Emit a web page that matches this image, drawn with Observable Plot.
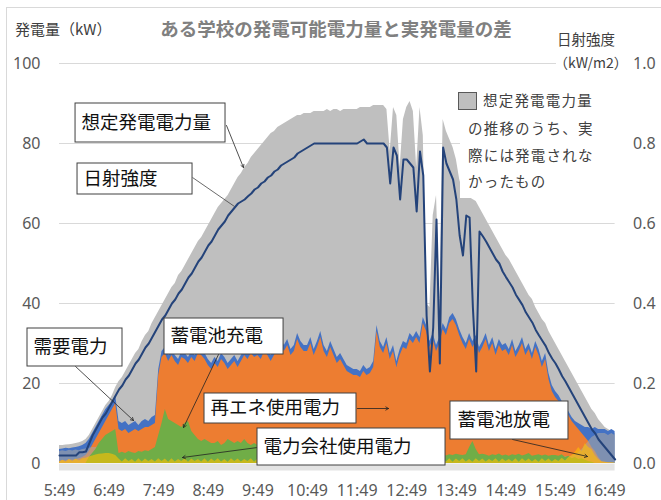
<!DOCTYPE html>
<html><head><meta charset="utf-8">
<script src="https://cdn.jsdelivr.net/npm/d3@7"></script>
<script src="https://cdn.jsdelivr.net/npm/@observablehq/plot@0.6"></script>
<style>
body{margin:0;background:#fff;}
#chart{width:661px;height:500px;}
</style></head><body><div id="chart"></div>
<script>
// minutes after 5:49, one sample every 4 minutes
const stepMinutes = 4;
const hourLabels = ["5:49","6:49","7:49","8:49","9:49","10:49","11:49","12:49","13:49","14:49","15:49","16:49"];
const leftTicks = [0,20,40,60,80,100];

// 日射強度 (kW/m2)
const irradiance = [
0.02,0.02,0.02,0.02,0.02,0.02,0.028,0.028,0.03,0.05,0.07,0.085,0.10,0.115,0.125,
0.14,0.155,0.17,0.185,0.195,0.21,0.22,0.235,0.25,0.26,0.275,0.29,0.30,0.315,0.33,
0.345,0.36,0.37,0.385,0.40,0.41,0.425,0.435,0.45,0.465,0.475,0.49,0.505,0.515,0.53,
0.545,0.555,0.57,0.585,0.595,0.605,0.62,0.63,0.64,0.65,0.655,0.66,0.668,0.675,0.685,
0.69,0.70,0.705,0.715,0.72,0.73,0.735,0.745,0.75,0.755,0.76,0.765,0.775,0.78,0.785,
0.79,0.795,0.80,0.80,0.80,0.80,0.80,0.80,0.80,0.80,0.80,0.80,0.80,0.80,0.80,
0.80,0.805,0.81,0.80,0.80,0.80,0.80,0.80,0.80,0.79,0.70,0.79,0.77,0.66,0.76,
0.76,0.75,0.74,0.63,0.78,0.72,0.37,0.23,0.34,0.61,0.25,0.79,0.75,0.73,0.71,
0.66,0.57,0.52,0.62,0.615,0.39,0.23,0.58,0.568,0.555,0.54,0.525,0.51,0.50,0.48,
0.466,0.453,0.44,0.422,0.409,0.396,0.378,0.365,0.352,0.334,0.32,0.307,0.294,0.276,0.262,
0.25,0.235,0.218,0.205,0.19,0.175,0.16,0.145,0.13,0.115,0.10,0.085,0.075,0.06,0.05,
0.04,0.03,0.02,0.01];

// 想定発電電力量 (kW)
const expected = [
4.5,4.5,4.6,4.7,4.8,5,5.2,5.5,6,7,8.5,10,11.5,13,14.5,
15.5,17,19,20.5,21.5,23,24.5,26,27.5,28.5,30.5,32,33,35,36.5,
38,39.5,41,42.5,44,45,47,48,49.5,51,52.5,54,55.5,56.5,58,
59.5,61,62.5,64,65,66,67,68.5,70,71.5,72.5,74,75,76.5,77.5,
78.5,79.5,80.5,81.5,82.5,83,84,84.5,85,85.5,86,86.5,87,87,87.5,
87.5,87.5,88,88,88,88,88.5,88,88.5,88.5,88,88.5,88.5,88.5,88.5,
88.5,89,89,89,89,89.5,89.5,89.5,89.5,88.5,78,89,87,74,86,
89,90.5,88,74,89,82,40,39,62,67,41,86,83,81,79,
76,71,68,67,66.5,66,65.5,64,62.5,61,59.5,58,56.5,55,53.5,
52,51,49.5,48,46.5,45,43.5,42,41,39,37.5,36,35,33,31.5,
30,28.5,27,25.5,24,22.5,21,19.5,18,16.5,15,13.5,12.5,11,10,
9,8.5,8,7.5];

// 需要電力 (kW)
const demand = [
3.5,3.6,3.8,3.7,3.9,4,4.2,4.5,5,6,7.5,9,10.5,12,13.5,
14.5,15.5,17,10.5,10,10.5,9.5,10,10.5,9.5,10.5,11,10.5,11.5,12,
23.5,28,29,27,28.5,27,26,28,27.5,26.5,28,27,29,28.5,27.5,
26,25,26.5,25.5,27.5,26.5,25,26,27,25.5,27,28.5,27.5,29,28,
28.5,27.5,29.5,28.5,27,28.5,30,31.5,29.5,31,28.5,29.5,32.5,30.5,29.5,
29.5,31.5,28.5,30.5,33,29.5,28,30.5,28.5,26.5,27.5,26,24.5,24,23.5,
23.5,23,24.5,23.5,24,25.5,34.5,30.5,29,31.5,27.5,29.5,25.5,28.5,30.5,
30,32.5,31.5,33,31.5,36.5,34.5,30.5,32.5,29.5,31.5,35,33.5,36.5,37.5,
36,33.5,31.5,30,32.5,30.5,32,29,30.5,32.5,29.5,31.5,28.5,31,29.5,
30,28.5,31,28,29.5,31.5,28.5,30,27.5,30.5,28.5,25.5,27.5,22.5,19.5,
18,17,15.5,14,13,11.5,10.5,10,9.5,9,9,8.5,9,8.5,8.5,
8.5,8,8.5,8];

// 再エネ使用電力 (kW)
const renewableUse = [
0.5,0.8,0.6,1,0.8,1,1.2,1.5,2,3,4.5,6,7.5,9,10.5,
12,13.5,15,8.5,8,8.5,7.5,8,8.5,8,8.5,9,9,9.5,10,
22,26.5,27.5,25.5,27,25.5,24.5,26.5,26,25,26.5,25.5,27.5,27,26,
24.5,23.5,25,24,26,25,23.5,24.5,25.5,24,25.5,27,26,27.5,26.5,
27,26,28,27,25.5,27,28.5,30,28,29.5,27,28,31,29,28,
28,30,27,29,31.5,28,26.5,29,27,25,26,24.5,23,22.5,22,
22,21.5,23,22,22.5,24,33,29,27.5,30,26,28,24,27,29,
28.5,31,30,31.5,30,35,33,29,31,28,30,33.5,32,35,36,
34.5,32,30,28.5,31,29,30.5,27.5,29,31,28,30,27,29.5,28,
28.5,27,29.5,26.5,28,30,27,28.5,26,29,27,24,26,21,18,
16.5,15.5,14,13,12,10.5,9.5,8.5,7.5,6.5,5.5,4,3,1.5,0.5,
0.3,0.2,0.1,0];

// 蓄電池充電 (kW)
const batteryCharge = [
0,0,0,0,0,0,0,0,0,1.5,2.5,3.5,5,6,7,
7.5,8,8.5,2.5,2.8,2.5,3,2.7,2.5,3,2.8,3.2,3,3.5,4,
7,10,13.5,11,10.5,10,9.5,9,10,10.5,8,7,6,5.5,6,
5.5,5,5,5.5,4.5,5,6,5.5,5,5.5,5,6,5,4.5,5,
4.5,4,4,3.5,4,3.5,3,3.5,2.5,3,2.5,2,2.5,2,2,
2,2.2,1.8,2,2.5,1.8,2,2.2,1.9,2,2.3,1.8,2,2.1,1.9,
1.8,2,2.2,1.9,2.1,2,2.3,1.8,2,2.2,1.9,2.1,2.4,1.8,2,
2.1,1.9,2.2,2,2.3,1.8,2,2.2,1.9,2.1,2,2.4,1.9,2.2,2,
2.3,2.1,2,2.2,4,5.5,3.5,2.2,2.3,2.1,1.8,2.2,2,2.4,1.9,
2.1,1.8,2.2,2,2.3,1.9,2.1,2.5,1.8,2,2.2,1.9,2.1,1.8,2,
2,1.8,2.2,1.5,1.8,1.2,1.5,1,1.2,0.8,0.5,0.3,0,0,0,
0,0,0,0];

// 蓄電池放電 (kW)
const batteryDischarge = [
0.3,0.8,0.4,1,0.5,1.1,0.6,1.2,1.3,1.6,1.9,2.1,2.3,2.4,2.5,
2.5,2.3,2,1.1,0.4,1.2,0.5,1,0.3,1.2,0.4,1.1,0.5,1,0.4,
1.2,0.5,1.1,0.3,1.2,0.4,1,0.5,1.2,0.3,1.1,0.5,1,0.4,1.2,
0.3,1.1,0.5,1.2,0.4,1,0.3,1.2,0.5,1.1,0.4,1,0.5,1.2,0.3,
1.1,0.5,1,0.4,1.2,0.3,1.2,0.5,1,0.4,1.1,0.3,1.2,0.5,1,
0.4,1.2,0.3,1.1,0.5,1,0.4,1.2,0.3,1.1,0.5,1.2,0.4,1,0.3,
1.2,0.5,1.1,0.4,1,0.3,1.2,0.5,1.1,0.4,1.2,0.3,1,0.5,1.2,
0.4,1.1,0.3,1.2,0.5,1,0.4,1.2,0.3,1.1,0.5,1,0.4,1.2,0.3,
1.1,0.5,1.2,0.4,1,0.3,1.2,0.5,1.1,0.4,1,0.5,1.2,0.3,1.1,
0.5,1,0.4,1.2,0.3,1.2,0.5,1.1,0.4,1,0.3,1.2,0.5,1.1,0.4,
1,0.5,1.3,0.6,1.5,2,2.8,4,3,5,4,3.5,2,1,0.4,
0.3,0.2,0.2,0.1];

// 電力会社使用電力 (kW)
const gridUse = [
3,3.2,3,3.3,3.1,3.4,3.2,3.5,3.6,3.8,4,4,4.2,4.3,4.5,
4.5,4,3.5,1.8,2,1.7,2.1,1.8,2,1.6,2.2,1.9,2.1,1.8,2,
1.6,1.4,1.7,1.5,1.3,1.6,1.8,1.4,1.5,1.7,1.3,1.6,1.5,1.4,1.7,
1.5,1.7,1.4,1.6,1.8,1.3,1.5,1.7,1.4,1.6,1.5,1.8,1.4,1.5,1.6,
1.4,1.6,1.5,1.7,1.3,1.6,1.5,1.4,1.7,1.5,1.6,1.3,1.5,1.7,1.4,
1.6,1.4,1.5,1.7,1.3,1.5,1.6,1.4,1.7,1.5,1.3,1.6,1.5,1.4,1.6,
1.5,1.7,1.4,1.6,1.5,1.3,1.6,1.5,1.7,1.4,1.5,1.6,1.3,1.5,1.7,
1.4,1.6,1.5,1.3,1.7,1.5,1.4,1.6,1.5,1.7,1.3,1.5,1.6,1.4,1.5,
1.6,1.5,1.7,1.4,1.5,1.6,1.3,1.5,1.7,1.4,1.6,1.5,1.3,1.6,1.5,
1.5,1.4,1.6,1.7,1.3,1.5,1.6,1.4,1.5,1.7,1.4,1.6,1.5,1.3,1.6,
1.5,1.6,1.4,1.7,1.5,1.8,2.2,2.8,3.5,4.5,5.5,6.5,7,7.5,7.5,
7.5,7,7.5,7];

const data = irradiance.map((v, i) => ({
  t: i * stepMinutes,
  irr: v * 100,
  expected: expected[i],
  demand: demand[i],
  renew: renewableUse[i],
  charge: batteryCharge[i],
  grid: gridUse[i],
  discharge: batteryDischarge[i]
}));

// callout boxes (minutes after 5:49, kW)
const notes = [
  {label:"想定発電電力量", x1:19.4, x2:200.8, y1:80.25, y2:90, tx:26.6, ty:85.1},
  {label:"日射強度", x1:21.8, x2:160.9, y1:67.25, y2:75, tx:29, ty:71.1},
  {label:"需要電力", x1:-38.7, x2:76.2, y1:24.25, y2:33.75, tx:-31.4, ty:29},
  {label:"蓄電池充電", x1:127, x2:271, y1:27.25, y2:36.25, tx:134.3, ty:31.75},
  {label:"再エネ使用電力", x1:175.4, x2:359.2, y1:10, y2:17.5, tx:182.6, ty:13.75},
  {label:"電力会社使用電力", x1:239.5, x2:466.9, y1:-0.5, y2:8.75, tx:246.7, ty:4.1},
  {label:"蓄電池放電", x1:472.9, x2:615.6, y1:6, y2:15.5, tx:481.4, ty:10.75}
];
const pointers = [
  {x1:202, y1:84.5, x2:222.5, y2:74},
  {x1:19.4, y1:24.25, x2:89.5, y2:10.75},
  {x1:192.3, y1:27.25, x2:150, y2:9},
  {x1:360.4, y1:13.75, x2:398, y2:13.75},
  {x1:239.5, y1:4, x2:148.8, y2:1.5},
  {x1:548, y1:6, x2:638.6, y2:1.75}
];
const plainLinks = [{x1:160.9, y1:71.5, x2:211.7, y2:64.25}];

const numFont = "'Noto Sans', 'Open Sans', sans-serif";
const jpFont = "'Noto Sans CJK JP', 'Noto Sans', sans-serif";

const chart = Plot.plot({
  width: 661, height: 500,
  marginLeft: 59, marginRight: 46.4, marginTop: 63, marginBottom: 37,
  x: {domain: [0, 672], axis: null},
  y: {domain: [0, 100], axis: null},
  style: {fontFamily: numFont, background: "white", overflow: "visible"},
  marks: [
    Plot.ruleY([20,40,60,80,100], {stroke: "#d9d9d9", strokeWidth: 1}),
    Plot.ruleY([0], {stroke: "#e3e3e3", strokeWidth: 7, dy: 3.5}),
    Plot.areaY(data, {x: "t", y: "expected", fill: "#bfbfbf"}),
    Plot.areaY(data, {x: "t", y: "demand", fill: "#4472c4"}),
    Plot.areaY(data, {x: "t", y: "renew", fill: "#ed7d31"}),
    Plot.areaY(data, {x: "t", y: "grid", fill: "#a5a5a5", fillOpacity: 0.6}),
    Plot.areaY(data, {x: "t", y: "charge", fill: "#70ad47"}),
    Plot.areaY(data, {x: "t", y: "discharge", fill: "#ffc000", fillOpacity: 0.6}),
    Plot.lineY(data, {x: "t", y: "irr", stroke: "#24437a", strokeWidth: 2}),
    Plot.axisX(d3.range(0, 661, 60), {tickFormat: d => hourLabels[d / 60], tickSize: 0, tickPadding: 21, fontSize: 16, color: "#595959", label: null}),
    Plot.axisY(leftTicks, {anchor: "left", tickSize: 0, tickPadding: 19, fontSize: 16, color: "#595959", label: null}),
    Plot.axisY(leftTicks, {anchor: "right", tickFormat: d => (d / 100).toFixed(1), tickSize: 0, tickPadding: 18, fontSize: 16, color: "#595959", label: null}),
    Plot.link(plainLinks, {x1: "x1", y1: "y1", x2: "x2", y2: "y2", stroke: "#444", strokeWidth: 0.8}),
    Plot.arrow(pointers, {x1: "x1", y1: "y1", x2: "x2", y2: "y2", stroke: "#222", strokeWidth: 0.8, headLength: 6}),
    Plot.rect(notes, {x1: "x1", x2: "x2", y1: "y1", y2: "y2", fill: "white", stroke: "#404040", strokeWidth: 1}),
    Plot.text(notes, {x: "tx", y: "ty", text: "label", textAnchor: "start", fontSize: 18.5, fill: "#111", fontFamily: jpFont})
  ]
});
document.getElementById("chart").appendChild(chart);

const svg = d3.select(chart);
function addText(s, x, y, size, fill, extra) {
  const el = svg.append("text").text(s).attr("x", x).attr("y", y).attr("dy", "0.35em")
    .attr("text-anchor", (extra && extra.anchor) || "start")
    .style("font-family", jpFont).style("font-size", size + "px").attr("fill", fill);
  if (extra && extra.bold) el.style("font-weight", "bold");
  if (extra && extra.spacing) el.style("letter-spacing", extra.spacing + "px");
  return el;
}
// note block with white background
svg.append("rect").attr("x", 460).attr("y", 84).attr("width", 168).attr("height", 114).attr("fill", "white");
svg.append("rect").attr("x", 458.5).attr("y", 92.5).attr("width", 18).attr("height", 17).attr("fill", "#bfbfbf").attr("stroke", "#595959");
const legendLines = [["想定発電電力量", 483, 101], ["の推移のうち、実", 468, 129], ["際には発電されな", 468, 156], ["かったもの", 468, 182]];
legendLines.forEach(([s, x, y]) => addText(s, x, y, 14.5, "#404040", {spacing: 1.2}));
// titles
addText("発電量（kW）", 15, 30, 15, "#404040");
addText("ある学校の発電可能電力量と実発電量の差", 336, 30, 18.5, "#808080", {anchor: "middle", bold: true});
addText("日射強度", 557, 40, 14.5, "#404040");
svg.append("rect").attr("x", 556).attr("y", 53).attr("width", 70).attr("height", 20).attr("fill", "white");
addText("（kW/m2）", 554, 63, 14, "#404040");
// outer chart border
svg.append("rect").attr("x", 6.5).attr("y", 7.5).attr("width", 720).attr("height", 620).attr("fill", "none").attr("stroke", "#d9d9d9");
</script></body></html>
